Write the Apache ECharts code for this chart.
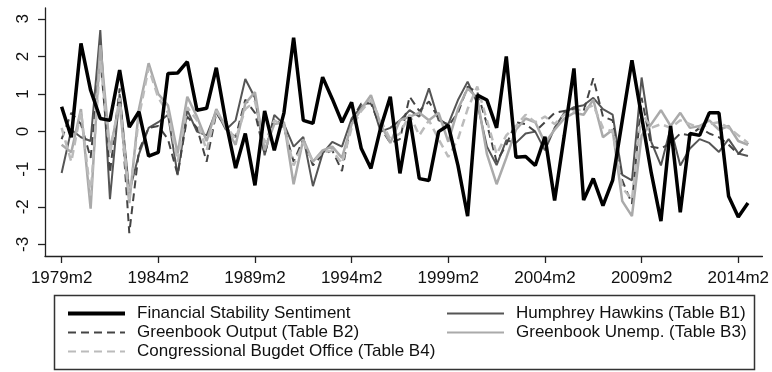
<!DOCTYPE html>
<html><head><meta charset="utf-8">
<script src="https://cdn.jsdelivr.net/npm/echarts@6/dist/echarts.min.js"></script>
<style>html,body{margin:0;padding:0;background:#fff}#c{width:772px;height:372px}</style>
</head><body><div id="c"></div>
<script>
// x positions: half-year index, 0 = 1979m2 ... 71 = 2014m8
const tickLabels = ["1979m2","1984m2","1989m2","1994m2","1999m2","2004m2","2009m2","2014m2"];
const tickPositions = [0,10,20,30,40,50,60,70];
const yTicks = [-3,-2,-1,0,1,2,3];

const fss = [0.66,-0.15,2.35,1.1,0.35,0.3,1.64,0.12,0.53,-0.65,-0.55,1.55,1.56,1.86,0.57,0.62,1.7,0.25,-0.97,-0.05,
  -1.43,0.55,-0.5,0.5,2.5,0.3,0.22,1.45,0.87,0.25,0.78,-0.45,-0.98,0.1,0.93,-1.11,0.38,-1.25,-1.3,0.0,
  0.17,-0.9,-2.25,0.97,0.84,0.1,2.0,-0.68,-0.66,-0.9,-0.14,-1.83,-0.1,1.68,-1.82,-1.25,-1.97,-1.3,0.3,1.9,
  0.4,-1.1,-2.38,0.15,-2.15,-0.05,-0.1,0.5,0.5,-1.72,-2.27,-1.9];
const hh = [-1.1,0.05,-0.15,-0.25,2.7,-1.8,1.0,-1.6,-0.6,0.1,0.25,0.45,-1.16,0.57,0.0,-0.1,0.55,0.05,0.3,1.4,
  0.9,-0.63,0.44,0.2,-0.4,-0.14,-1.45,-0.58,-0.27,-0.4,0.35,0.66,0.84,0.0,0.1,0.3,0.57,0.4,1.15,0.3,
  0.2,0.84,1.33,0.75,-0.4,-0.89,-0.23,-0.3,-0.05,0.0,-0.5,0.1,0.5,0.65,0.7,0.9,0.6,0.45,-1.15,-1.3,
  1.44,-0.27,-0.9,0.1,-0.9,-0.45,-0.2,-0.3,-0.54,-0.2,-0.58,-0.65];
const gbo = [-0.2,0.5,0.2,-0.7,2.0,-1.1,1.15,-2.7,-0.5,0.1,0.15,-0.2,-1.15,0.4,0.1,-0.8,0.5,0.1,-0.15,0.85,
  0.5,-0.6,0.35,0.1,-0.8,-0.2,-0.9,-0.6,-0.5,-1.05,0.3,0.75,0.75,0.1,-0.3,-0.2,0.93,0.55,0.8,0.35,
  0.15,0.5,1.2,1.05,0.2,-0.8,-0.35,0.25,0.2,0.0,0.25,0.5,0.55,0.6,0.55,1.42,0.4,0.3,-1.3,-1.92,
  0.9,-0.4,-0.45,-0.3,-0.05,-0.1,0.1,-0.05,-0.15,-0.35,-0.6,-0.3];
const gbu = [-0.35,-0.55,0.6,-2.05,2.3,-0.5,0.75,-1.9,0.6,1.82,1.0,0.7,-0.58,0.93,0.4,-0.25,0.6,0.1,-0.35,0.75,
  1.05,-0.5,0.2,0.25,-1.4,-0.2,-0.8,-0.5,-0.4,-0.7,0.2,0.6,0.97,0.2,-0.3,0.3,0.4,0.5,0.3,0.5,
  -0.27,0.6,1.15,0.9,-0.6,-1.4,-0.7,0.05,0.35,0.25,-0.3,0.05,0.35,0.5,0.45,0.85,-0.15,0.05,-1.85,-2.25,
  -0.1,0.2,0.57,0.15,0.5,0.1,0.15,0.3,0.05,0.15,-0.25,-0.35];
const cbo = [0.1,-0.8,0.55,-1.7,1.9,-0.6,0.9,-1.8,0.4,1.7,0.9,0.5,-0.8,0.65,0.3,-0.5,0.55,0.15,-0.2,0.6,
  0.8,-0.3,0.3,0.15,-0.9,-0.3,-0.8,-0.55,-0.5,-0.85,0.1,0.55,0.85,0.3,-0.2,-0.05,0.45,-0.1,0.3,-0.2,
  -0.67,-0.2,0.6,1.2,0.3,-0.6,-0.1,0.15,0.45,0.25,0.4,0.2,0.45,0.55,0.6,0.7,0.1,0.0,-1.5,-1.8,
  0.5,0.1,0.2,0.1,0.3,0.2,0.1,0.2,0.25,0.1,-0.1,-0.3];

const names = ["Financial Stability Sentiment","Humphrey Hawkins (Table B1)","Greenbook Output (Table B2)","Greenbook Unemp. (Table B3)","Congressional Bugdet Office (Table B4)"];

function pts(arr){ return arr.map((v,i)=>[i,v]); }
const FONT = '"Liberation Sans", Arial, sans-serif';
const legText = {fontSize:17,fontFamily:FONT,color:'#111',padding:[0,0,0,7],lineHeight:19};

const chart = echarts.init(document.getElementById('c'), null, {renderer:'canvas'});
chart.setOption({
  animation:false,
  backgroundColor:'#fff',
  grid:{left:45,right:6,top:8,bottom:116,containLabel:false},
  xAxis:{type:'value',min:-1.72,max:72.5,
    axisLine:{onZero:false,lineStyle:{color:'#222',width:1.3}},
    axisTick:{show:true,length:7,lineStyle:{color:'#222',width:1.3},customValues:tickPositions},
    axisLabel:{customValues:tickPositions,margin:14,color:'#111',fontSize:17,fontFamily:FONT,
      formatter:v=>tickLabels[tickPositions.indexOf(Math.round(v))]||''},
    splitLine:{show:false}},
  yAxis:{type:'value',min:-3.31,max:3.29,
    axisLine:{show:true,onZero:false,lineStyle:{color:'#222',width:1.3}},
    axisTick:{show:true,length:7,lineStyle:{color:'#222',width:1.3},customValues:yTicks},
    axisLabel:{customValues:yTicks,rotate:90,margin:13,color:'#111',fontSize:17,fontFamily:FONT},
    splitLine:{show:false}},
  legend:[
    {data:[{name:names[0],lineStyle:{width:4}},names[2],names[4]],orient:'vertical',left:61,top:299,height:70,itemWidth:57,itemHeight:14,itemGap:0,
     itemStyle:{opacity:0},textStyle:legText},
    {data:[names[1],names[3]],orient:'vertical',left:441,top:299,height:70,itemWidth:57,itemHeight:14,itemGap:0,
     itemStyle:{opacity:0},textStyle:legText}
  ],
  graphic:[{type:'rect',shape:{x:54.5,y:295.5,width:700,height:74},style:{fill:'none',stroke:'#333',lineWidth:1.5},silent:true}],
  series:[
    {name:names[1],type:'line',data:pts(hh),symbol:'none',lineStyle:{color:'#555',width:2},itemStyle:{color:'#555'},z:2},
    {name:names[2],type:'line',data:pts(gbo),symbol:'none',lineStyle:{color:'#444',width:2,type:[8,5]},itemStyle:{color:'#444'},z:3},
    {name:names[3],type:'line',data:pts(gbu),symbol:'none',lineStyle:{color:'#aaa',width:2.5},itemStyle:{color:'#aaa'},z:4},
    {name:names[4],type:'line',data:pts(cbo),symbol:'none',lineStyle:{color:'#bbb',width:2.5,type:[8,5]},itemStyle:{color:'#bbb'},z:5},
    {name:names[0],type:'line',data:pts(fss),symbol:'none',lineStyle:{color:'#000',width:3.5},itemStyle:{color:'#000'},z:6}
  ]
});
</script></body></html>
